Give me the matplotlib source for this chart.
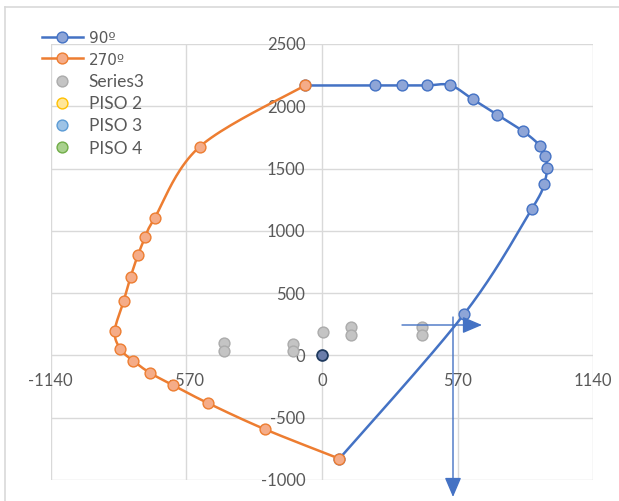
import numpy as np
import matplotlib
matplotlib.use("Agg")
import matplotlib.pyplot as plt
from matplotlib.lines import Line2D
from matplotlib.patches import FancyArrowPatch

plt.rcParams['font.family'] = ['Lato', 'DejaVu Sans']

# ---- data ----
s90_x = [-72, 221, 335, 440, 538, 633, 734, 846, 915, 938, 945, 933, 882, 598, 73]
s90_y = [2167, 2167, 2167, 2167, 2170, 2057, 1934, 1798, 1685, 1600, 1501, 1380, 1177, 334, -829]

s270_x = [-72, -513, -703, -742, -774, -804, -834, -871, -847, -794, -721, -624, -477, -238, 73]
s270_y = [2167, 1677, 1105, 953, 803, 631, 433, 193, 51, -43, -142, -241, -385, -594, -829]

s3_x = [-413, -413, -122, -122, 4, 123, 123, 422, 422]
s3_y = [96, 38, 91, 32, 187, 230, 166, 225, 161]

origin_x = [0]
origin_y = [0]

x_ticks = [-1140, -570, 0, 570, 1140]
y_ticks = [-1000, -500, 0, 500, 1000, 1500, 2000, 2500]

series_labels = ['90º', '270º', 'Series3', 'PISO 2', 'PISO 3', 'PISO 4']

BLUE, BLUE_FILL = '#4472C4', '#8EA5D7'
ORANGE, ORANGE_FILL = '#ED7D31', '#F5AC88'
GRAY, GRAY_FILL = '#ABABAB', '#C4C4C4'
TEXT = '#595959'
GRID = '#D9D9D9'


def smooth(xs, ys, n=24):
    """Bezier smoothing through the points (Catmull-Rom control points)."""
    p = np.column_stack([xs, ys]).astype(float)
    ext = np.vstack([p[0], p, p[-1]])
    out = []
    t = np.linspace(0, 1, n)[:, None]
    for i in range(1, len(ext) - 2):
        p0, p1, p2, p3 = ext[i - 1], ext[i], ext[i + 1], ext[i + 2]
        c1 = p1 + (p2 - p0) / 6.0
        c2 = p2 - (p3 - p1) / 6.0
        seg = ((1 - t) ** 3) * p1 + 3 * ((1 - t) ** 2) * t * c1 + 3 * (1 - t) * t ** 2 * c2 + t ** 3 * p2
        out.append(seg if i == 1 else seg[1:])
    seg = np.vstack(out)
    return seg[:, 0], seg[:, 1]


W, H = 619, 501
fig = plt.figure(figsize=(W / 100, H / 100), dpi=100)
ax = fig.add_axes([50.7 / W, 1 - 480 / H, (593.3 - 50.7) / W, (480 - 44) / H])

ax.set_xlim(-1140, 1140)
ax.set_ylim(-1000, 2500)
ax.set_xticks(x_ticks)
ax.set_yticks(y_ticks)
ax.set_xticklabels([str(v) for v in x_ticks])
ax.set_yticklabels([str(v) for v in y_ticks])
ax.spines['bottom'].set_position(('data', 0))
ax.spines['left'].set_position(('data', 0))
for sp in ax.spines.values():
    sp.set_visible(False)
ax.tick_params(length=0, labelsize=12, labelcolor=TEXT)
ax.tick_params(axis='x', pad=13)
ax.tick_params(axis='y', pad=12)
ax.grid(True, color=GRID, linewidth=1.0)

mk = dict(marker='o', markersize=7.8, markeredgewidth=1.0, linestyle='none')

# 90 degree series
bx, by = smooth(s90_x, s90_y)
ax.plot(bx, by, color=BLUE, linewidth=1.8, zorder=3, solid_capstyle='round')
ax.plot(s90_x, s90_y, color=BLUE, markerfacecolor=BLUE_FILL, markeredgecolor=BLUE, zorder=4, **mk)

# 270 degree series
ox, oy = smooth(s270_x, s270_y)
ax.plot(ox, oy, color=ORANGE, linewidth=1.8, zorder=5, solid_capstyle='round')
ax.plot(s270_x, s270_y, markerfacecolor=ORANGE_FILL, markeredgecolor=ORANGE, zorder=6, **mk)

# scattered points
ax.plot(s3_x, s3_y, markerfacecolor=GRAY_FILL, markeredgecolor=GRAY, zorder=3, **mk)
ax.plot(origin_x, origin_y, markerfacecolor='#6A7DAB', markeredgecolor='#1F3A5F', zorder=7,
        marker='o', markersize=7.8, markeredgewidth=1.3, linestyle='none')

# legend
handles = [
    Line2D([], [], color=BLUE, linewidth=1.8, marker='o', markersize=7.8,
           markerfacecolor=BLUE_FILL, markeredgecolor=BLUE),
    Line2D([], [], color=ORANGE, linewidth=1.8, marker='o', markersize=7.8,
           markerfacecolor=ORANGE_FILL, markeredgecolor=ORANGE),
    Line2D([], [], linestyle='none', marker='o', markersize=7.8,
           markerfacecolor=GRAY_FILL, markeredgecolor=GRAY),
    Line2D([], [], linestyle='none', marker='o', markersize=7.8,
           markerfacecolor='#FFE699', markeredgecolor='#FFC000'),
    Line2D([], [], linestyle='none', marker='o', markersize=7.8,
           markerfacecolor='#9DC3E6', markeredgecolor='#5B9BD5'),
    Line2D([], [], linestyle='none', marker='o', markersize=7.8,
           markerfacecolor='#A9D18E', markeredgecolor='#70AD47'),
]
leg = fig.legend(handles, series_labels, loc='upper left',
                 bbox_to_anchor=(42 / W, 1 - 31 / H), frameon=False,
                 fontsize=12.5, labelcolor=TEXT, handlelength=2.35,
                 handletextpad=0.33, labelspacing=0.36, borderpad=0,
                 borderaxespad=0)
# ordinal sign drawn with a family whose º carries the underline
for txt in leg.get_texts()[:2]:
    txt.set_fontfamily(['DejaVu Sans'])
    txt.set_fontsize(11)


# direction arrows
def fig_xy(px, py):
    return (px / W, 1 - py / H)


arrow_kw = dict(arrowstyle='-|>,head_length=0.75,head_width=0.32', color=BLUE,
                linewidth=1.0, shrinkA=0, shrinkB=0)
fig.add_artist(FancyArrowPatch(fig_xy(402, 325), fig_xy(482, 325),
                               transform=fig.transFigure, mutation_scale=16, **arrow_kw))
fig.add_artist(FancyArrowPatch(fig_xy(453, 317), fig_xy(453, 497),
                               transform=fig.transFigure, mutation_scale=16, **arrow_kw))

# chart-area border
fig.add_artist(Line2D([5 / W, 5 / W], [0, 1 - 7 / H], transform=fig.transFigure,
                      color=GRID, linewidth=1.2))
fig.add_artist(Line2D([5 / W, 1], [1 - 7 / H, 1 - 7 / H], transform=fig.transFigure,
                      color=GRID, linewidth=1.2))

fig.savefig('out.png', dpi=100)
